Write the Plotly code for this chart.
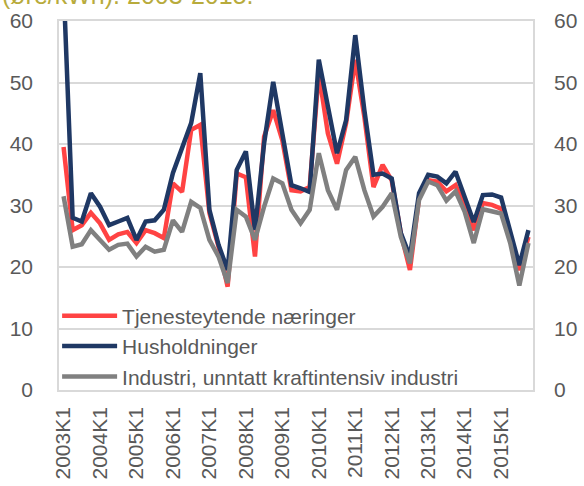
import plotly.graph_objects as go

years = list(range(2003, 2016))
quarters = [f"{y}K{q}" for y in years for q in range(1, 5)]
tick_labels = [f"{y}K1" for y in years]

tjenesteytende = [39.5, 26.0, 26.8, 28.8, 27.1, 24.4, 25.3, 25.7, 23.9, 26.0, 25.5, 24.7,
                  33.6, 32.2, 42.3, 43.1, 28.8, 23.3, 16.8, 35.2, 34.6, 21.7, 41.2, 45.5,
                  40.6, 32.5, 32.3, 33.0, 51.5, 41.7, 36.8, 43.4, 53.7, 44.4, 33.0, 36.6,
                  34.1, 25.5, 19.5, 31.2, 34.1, 33.9, 32.3, 33.3, 30.0, 26.0, 30.4, 30.1,
                  29.5, 25.2, 19.5, 24.9]
husholdninger = [66.0, 28.0, 27.4, 32.0, 29.8, 26.8, 27.4, 28.0, 24.4, 27.4, 27.6, 29.3,
                 35.3, 39.3, 43.4, 51.5, 29.3, 23.6, 19.5, 35.8, 38.8, 26.0, 40.1, 50.1,
                 41.7, 33.3, 32.8, 32.2, 53.7, 46.0, 38.5, 43.9, 57.7, 45.5, 35.0, 35.2,
                 34.4, 25.5, 21.7, 32.0, 35.0, 34.7, 33.6, 35.5, 31.4, 27.3, 31.7, 31.8,
                 31.3, 25.8, 20.3, 26.0]
industri = [31.5, 23.3, 23.7, 26.0, 24.4, 22.8, 23.6, 23.8, 21.7, 23.3, 22.5, 22.8,
            27.6, 25.7, 30.6, 29.6, 24.4, 21.7, 17.4, 29.3, 28.2, 24.4, 29.8, 34.4,
            33.6, 29.3, 27.1, 29.3, 38.5, 32.5, 29.3, 35.8, 37.9, 32.5, 28.2, 29.8,
            32.0, 24.9, 20.6, 30.9, 33.9, 33.3, 30.8, 32.3, 29.0, 23.9, 29.4, 29.1,
            28.7, 23.9, 17.0, 23.9]

y_ticks = [0, 10, 20, 30, 40, 50, 60]

FONT = "Liberation Sans, Arial, sans-serif"
TXT = "#595959"
GRID = "#d9d9d9"

fig = go.Figure()
series = [
    ("Tjenesteytende næringer", tjenesteytende, "#ff4343"),
    ("Husholdninger", husholdninger, "#1f3864"),
    ("Industri, unntatt kraftintensiv industri", industri, "#808080"),
]
for name, vals, col in series:
    fig.add_trace(go.Scatter(x=quarters, y=vals, name=name, mode="lines",
                             line=dict(color=col, width=4.5)))

# right-hand axis copy (invisible trace so that axis is drawn)
fig.add_trace(go.Scatter(x=quarters, y=industri, yaxis="y2", mode="lines",
                         line=dict(color="rgba(0,0,0,0)", width=0),
                         showlegend=False, hoverinfo="skip"))

fig.update_layout(
    template="none",
    width=584, height=486,
    margin=dict(l=59, r=51, t=21, b=96, autoexpand=False),
    paper_bgcolor="white", plot_bgcolor="white",
    font=dict(family=FONT, size=21, color=TXT),
    showlegend=True,
    legend=dict(x=-0.004, y=-0.018, xanchor="left", yanchor="bottom",
                bgcolor="rgba(0,0,0,0)", borderwidth=0,
                font=dict(family=FONT, size=21, color=TXT),
                itemwidth=55, tracegroupgap=0),
    xaxis=dict(type="category", range=[-0.5, 51.5], automargin=False,
               tickmode="array", tickvals=tick_labels, ticktext=tick_labels,
               tickangle=-90, showgrid=False, ticks="",
               showline=True, linecolor=GRID, linewidth=1.5, mirror=True,
               tickfont=dict(size=21, color=TXT), ticklabelstandoff=7),
    yaxis=dict(range=[0, 60], tickvals=y_ticks, showgrid=True, gridcolor=GRID,
               gridwidth=1.5, zeroline=False, ticks="", automargin=False,
               showline=True, linecolor=GRID, linewidth=1.5, mirror=True,
               tickfont=dict(size=21, color=TXT), ticklabelstandoff=20),
    yaxis2=dict(range=[0, 60], tickvals=y_ticks, overlaying="y", side="right",
                showgrid=False, zeroline=False, ticks="", showline=False,
                automargin=False,
                tickfont=dict(size=21, color=TXT), ticklabelstandoff=20),
    annotations=[dict(text="(øre/kWh). 2003-2015.", xref="paper", yref="paper",
                      x=-59/474, y=1.028, xanchor="left", yanchor="bottom",
                      showarrow=False,
                      font=dict(family=FONT, size=25, color="#b8ab3c"))],
)

fig.write_html("out.html", config={"displayModeBar": False},
               post_script="document.body.style.margin='0px';document.body.style.overflow='hidden';")
